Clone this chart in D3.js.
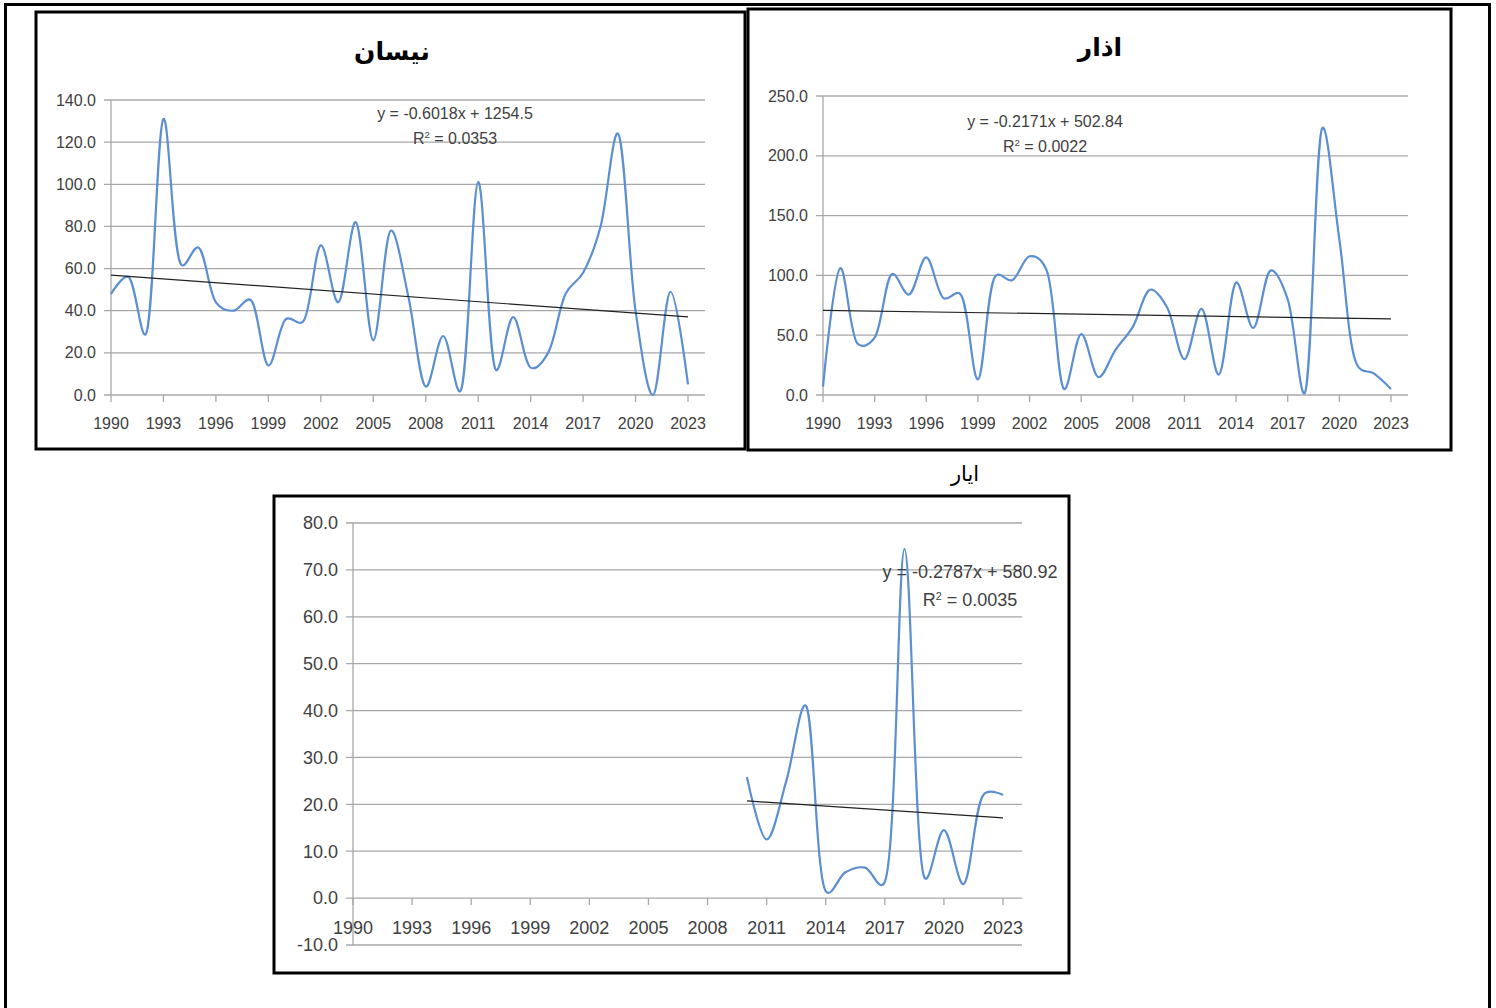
<!DOCTYPE html>
<html>
<head>
<meta charset="utf-8">
<script src="https://cdn.jsdelivr.net/npm/d3@7"></script>
<style>
  body { margin: 0; background: #fff; }
  svg { display: block; }
  .tick-label { font-family: "Liberation Sans", Arial, sans-serif; fill: #404040; }
  .title { font-family: "DejaVu Sans", sans-serif; fill: #000; }
</style>
</head>
<body>
<div id="vis"></div>
<script>
// data

const years = d3.range(1990, 2024)
const xTickYears = d3.range(1990, 2024, 3)

// نيسان
const aprilValues = [48, 56, 29, 131, 62, 70, 44, 40, 45, 14, 36, 35, 71, 44, 82, 26, 78, 47,
  4, 28, 2, 101, 12, 37, 13, 20, 48, 58, 80, 124, 40, 0, 49, 5]
const aprilTrend = { slope: -0.6018, intercept: 1254.5, r2: "0.0353", label: "y = -0.6018x + 1254.5" }

// اذار
const marchValues = [7, 106, 43, 48, 101, 84, 115, 81, 84, 13, 99, 96, 116, 104, 5, 51, 15, 38,
  57, 88, 73, 30, 72, 17, 94, 56, 104, 80, 2, 223, 130, 26, 18, 5]
const marchTrend = { slope: -0.2171, intercept: 502.84, r2: "0.0022", label: "y = -0.2171x + 502.84" }

// ايار (only 2010 - 2023)
const mayYears = d3.range(2010, 2024)
const mayValues = [25.8, 12.5, 25, 41, 1.5, 5.5, 6.5, 3.5, 74.5, 4.5, 14.5, 3, 22, 22]
const mayTrend = { slope: -0.2787, intercept: 580.92, r2: "0.0035", label: "y = -0.2787x + 580.92" }

const lineColor = "#5b8fd1"
const gridColor = "#a8a8a8"

let svg = d3.select("#vis")
  .append("svg")
  .attr("width", 1496)
  .attr("height", 1008)

// page frame
svg.append("rect")
  .attr("x", 5.5).attr("y", 4.5)
  .attr("width", 1484).attr("height", 1100)
  .attr("fill", "none")
  .attr("stroke", "#000")
  .attr("stroke-width", 3)

function drawChart(cfg) {
  let g = svg.append("g")

  g.append("rect")
    .attr("x", cfg.box.x).attr("y", cfg.box.y)
    .attr("width", cfg.box.w).attr("height", cfg.box.h)
    .attr("fill", "#fff")
    .attr("stroke", "#000")
    .attr("stroke-width", 3)

  let x = d3.scaleLinear()
    .domain([1990, 2023])
    .range([cfg.x0, cfg.x1])

  let y = d3.scaleLinear()
    .domain(cfg.yDomain)
    .range([cfg.yBottom, cfg.yTop])

  let yTicks = d3.range(cfg.yDomain[0], cfg.yDomain[1] + cfg.yStep / 2, cfg.yStep)

  // gridlines
  g.append("g")
    .selectAll("line")
    .data(yTicks)
    .enter()
    .append("line")
    .attr("x1", cfg.x0 - 7)
    .attr("x2", cfg.gridRight)
    .attr("y1", d => y(d))
    .attr("y2", d => y(d))
    .attr("stroke", gridColor)
    .attr("stroke-width", 1.3)

  // y axis line
  g.append("line")
    .attr("x1", cfg.x0).attr("x2", cfg.x0)
    .attr("y1", y(cfg.yDomain[1])).attr("y2", y(cfg.yDomain[0]))
    .attr("stroke", gridColor)
    .attr("stroke-width", 1.3)

  // y labels (plain hyphen for negatives, like excel)
  g.append("g")
    .selectAll("text")
    .data(yTicks)
    .enter()
    .append("text")
    .attr("class", "tick-label")
    .attr("x", cfg.x0 - 15)
    .attr("y", d => y(d))
    .attr("dy", "0.35em")
    .attr("text-anchor", "end")
    .style("font-size", cfg.fontSize + "px")
    .text(d => d.toFixed(1))

  // x ticks and labels
  let xAxisY = y(0)
  g.append("g")
    .selectAll("line")
    .data(xTickYears)
    .enter()
    .append("line")
    .attr("x1", d => x(d)).attr("x2", d => x(d))
    .attr("y1", xAxisY).attr("y2", xAxisY + 7)
    .attr("stroke", gridColor)
    .attr("stroke-width", 1.3)

  g.append("g")
    .selectAll("text")
    .data(xTickYears)
    .enter()
    .append("text")
    .attr("class", "tick-label")
    .attr("x", d => x(d))
    .attr("y", xAxisY + cfg.xLabelOffset)
    .attr("text-anchor", "middle")
    .style("font-size", cfg.fontSize + "px")
    .text(d => d)

  // smoothed series line (excel style)
  let line = d3.line()
    .x(d => x(d[0]))
    .y(d => y(d[1]))
    .curve(d3.curveCatmullRom.alpha(0.3))

  g.append("path")
    .datum(d3.zip(cfg.years, cfg.values))
    .attr("d", line)
    .attr("fill", "none")
    .attr("stroke", lineColor)
    .attr("stroke-width", 2.2)

  // linear trend line
  let t = cfg.trend
  let ends = [cfg.years[0], cfg.years[cfg.years.length - 1]]
  g.append("path")
    .datum(ends.map(yr => [yr, t.slope * yr + t.intercept]))
    .attr("d", d3.line().x(d => x(d[0])).y(d => y(d[1])))
    .attr("stroke", "#222")
    .attr("stroke-width", 1.2)
    .attr("fill", "none")

  // trend equation
  g.append("text")
    .attr("class", "tick-label")
    .attr("x", cfg.eq[0])
    .attr("y", cfg.eq[1])
    .attr("text-anchor", "middle")
    .style("font-size", cfg.fontSize + "px")
    .text(t.label)
  let r = g.append("text")
    .attr("class", "tick-label")
    .attr("x", cfg.eq[0])
    .attr("y", cfg.eq[1] + cfg.fontSize * 1.55)
    .attr("text-anchor", "middle")
    .style("font-size", cfg.fontSize + "px")
  r.append("tspan").text("R")
  r.append("tspan").attr("dy", -6).style("font-size", (cfg.fontSize * 0.6) + "px").text("2")
  r.append("tspan").attr("dy", 6).text(" = " + t.r2)

  // title
  g.append("text")
    .attr("class", "title")
    .attr("x", cfg.title.x)
    .attr("y", cfg.title.y)
    .attr("text-anchor", "middle")
    .style("font-size", cfg.title.size + "px")
    .style("font-weight", cfg.title.weight)
    .text(cfg.title.text)
}

drawChart({
  box: { x: 36, y: 12, w: 709, h: 437 },
  x0: 111, x1: 688, gridRight: 705,
  yDomain: [0, 140], yStep: 20, yTop: 100, yBottom: 395,
  xLabelOffset: 34, fontSize: 16,
  years: years, values: aprilValues, trend: aprilTrend,
  eq: [455, 119],
  title: { text: "نيسان", x: 392, y: 60, size: 25, weight: "bold" }
})

drawChart({
  box: { x: 748, y: 9, w: 703, h: 441 },
  x0: 823, x1: 1391, gridRight: 1408,
  yDomain: [0, 250], yStep: 50, yTop: 96, yBottom: 395,
  xLabelOffset: 34, fontSize: 16,
  years: years, values: marchValues, trend: marchTrend,
  eq: [1045, 127],
  title: { text: "اذار", x: 1100, y: 56, size: 25, weight: "bold" }
})

drawChart({
  box: { x: 274, y: 496, w: 795, h: 477 },
  x0: 353, x1: 1003, gridRight: 1022,
  yDomain: [-10, 80], yStep: 10, yTop: 523, yBottom: 945,
  xLabelOffset: 36, fontSize: 18,
  years: mayYears, values: mayValues, trend: mayTrend,
  eq: [970, 578],
  title: { text: "ايار", x: 965, y: 481, size: 21, weight: "normal" }
})
</script>
</body>
</html>
